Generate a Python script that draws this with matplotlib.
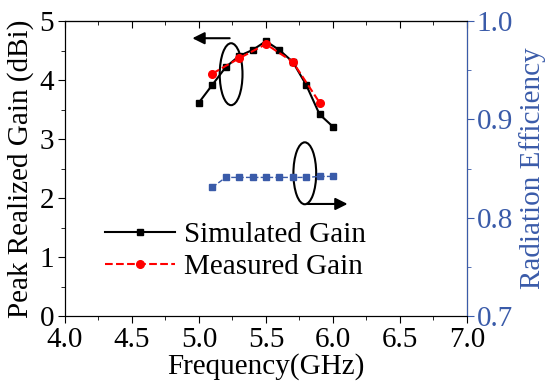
import matplotlib
matplotlib.use("Agg")
import matplotlib.pyplot as plt
from matplotlib.patches import Ellipse
from matplotlib.ticker import MultipleLocator

freq_sim = [5.0, 5.1, 5.2, 5.3, 5.4, 5.5, 5.6, 5.7, 5.8, 5.9, 6.0]
gain_sim = [3.62, 3.92, 4.22, 4.41, 4.51, 4.66, 4.51, 4.31, 3.92, 3.42, 3.21]

freq_meas = [5.1, 5.3, 5.5, 5.7, 5.9]
gain_meas = [4.11, 4.37, 4.61, 4.31, 3.62]

freq_eff = [5.1, 5.2, 5.3, 5.4, 5.5, 5.6, 5.7, 5.8, 5.9, 6.0]
eff = [0.831, 0.841, 0.841, 0.841, 0.841, 0.841, 0.841, 0.841, 0.842, 0.842]

blue = "#3A5BA9"

plt.rcParams['font.family'] = ['Liberation Serif', 'DejaVu Serif']
plt.rcParams['font.size'] = 21

fig = plt.figure(figsize=(5.48, 3.84), dpi=100)
ax = fig.add_axes([0.1186, 0.177, 0.7334, 0.768])

ax.plot(freq_sim, gain_sim, "-", color="black", marker="s", markersize=4, lw=1.5,
        label="Simulated Gain")
ax.plot(freq_meas, gain_meas, "--", color="red", marker="o", markersize=5.5, lw=1.5,
        label="Measured Gain")

ax.set_xlim(4.0, 7.0)
ax.set_ylim(0, 5)
ax.xaxis.set_major_locator(MultipleLocator(0.5))
ax.xaxis.set_minor_locator(MultipleLocator(0.25))
ax.yaxis.set_major_locator(MultipleLocator(1))
ax.yaxis.set_minor_locator(MultipleLocator(0.5))
ax.tick_params(axis="x", which="both", direction="out", pad=3)
ax.tick_params(axis="x", which="major", length=5)
ax.tick_params(axis="x", which="minor", length=3)
ax.tick_params(axis="y", which="major", direction="out", length=5, pad=3)
ax.tick_params(axis="y", which="minor", direction="out", length=3)
ax.set_xlabel("Frequency(GHz)", labelpad=0)
ax.set_ylabel("Peak Realized Gain (dBi)", labelpad=4)

# top axis: ticks pointing inward, no labels
top = ax.secondary_xaxis("top")
top.xaxis.set_major_locator(MultipleLocator(0.5))
top.xaxis.set_minor_locator(MultipleLocator(0.25))
top.tick_params(axis="x", which="both", direction="in", labeltop=False)
top.tick_params(axis="x", which="major", length=5)
top.tick_params(axis="x", which="minor", length=3)

# annotations: ellipses with arrows
ax.add_patch(Ellipse((5.24, 4.1), 0.17, 1.05, fill=False, color="black", lw=1.5))
ax.annotate("", xy=(4.93, 4.71), xytext=(5.25, 4.71),
            arrowprops=dict(arrowstyle="-|>", color="black", lw=1.5, mutation_scale=18))
ax.add_patch(Ellipse((5.79, 2.42), 0.17, 1.05, fill=False, color="black", lw=1.5))
ax.annotate("", xy=(6.13, 1.9), xytext=(5.79, 1.9),
            arrowprops=dict(arrowstyle="-|>", color="black", lw=1.5, mutation_scale=18))

ax.legend(loc="upper left", bbox_to_anchor=(0.07, 0.36), frameon=False,
          handlelength=2.4, handletextpad=0.3, labelspacing=0.2, numpoints=1,
          borderaxespad=0, fontsize=21)

ax2 = ax.twinx()
ax2.plot(freq_eff, eff, "--", color=blue, marker="s", markersize=4, lw=1)
ax2.set_ylim(0.7, 1.0)
ax2.yaxis.set_major_locator(MultipleLocator(0.1))
ax2.yaxis.set_minor_locator(MultipleLocator(0.05))
ax2.tick_params(axis="y", which="both", direction="out", colors=blue, pad=2)
ax2.tick_params(axis="y", which="major", length=5)
ax2.tick_params(axis="y", which="minor", length=3)
ax2.spines["right"].set_color(blue)
ax2.set_ylabel("Radiation Efficiency", color=blue, labelpad=4)

fig.savefig("out.png", dpi=100)
